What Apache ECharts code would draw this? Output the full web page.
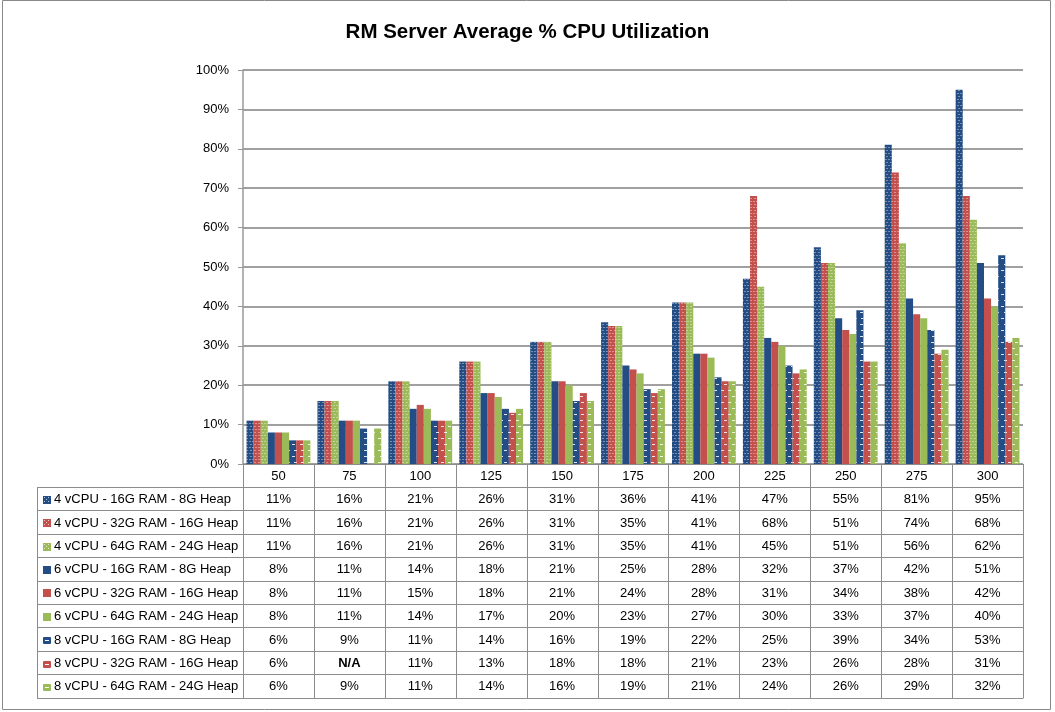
<!DOCTYPE html>
<html>
<head>
<meta charset="utf-8">
<script src="https://cdn.jsdelivr.net/npm/echarts@6/dist/echarts.min.js"></script>
<style>
  html, body { margin: 0; padding: 0; background: #fff; }
  #chart { width: 1055px; height: 712px; }
</style>
</head>
<body>
<div id="chart"></div>
<script>
// ==============================================================
// data
// ==============================================================
var categories = ['50', '75', '100', '125', '150', '175', '200', '225', '250', '275', '300'];
var seriesNames = [
    '4 vCPU - 16G RAM - 8G Heap', '4 vCPU - 32G RAM - 16G Heap', '4 vCPU - 64G RAM - 24G Heap',
    '6 vCPU - 16G RAM - 8G Heap', '6 vCPU - 32G RAM - 16G Heap', '6 vCPU - 64G RAM - 24G Heap',
    '8 vCPU - 16G RAM - 8G Heap', '8 vCPU - 32G RAM - 16G Heap', '8 vCPU - 64G RAM - 24G Heap'
];
var cpu4_16 = [11, 16, 21, 26, 31, 36, 41, 47, 55, 81, 95];
var cpu4_32 = [11, 16, 21, 26, 31, 35, 41, 68, 51, 74, 68];
var cpu4_64 = [11, 16, 21, 26, 31, 35, 41, 45, 51, 56, 62];
var cpu6_16 = [8, 11, 14, 18, 21, 25, 28, 32, 37, 42, 51];
var cpu6_32 = [8, 11, 15, 18, 21, 24, 28, 31, 34, 38, 42];
var cpu6_64 = [8, 11, 14, 17, 20, 23, 27, 30, 33, 37, 40];
var cpu8_16 = [6, 9, 11, 14, 16, 19, 22, 25, 39, 34, 53];
var cpu8_32 = [6, null, 11, 13, 18, 18, 21, 23, 26, 28, 31];
var cpu8_64 = [6, 9, 11, 14, 16, 19, 21, 24, 26, 29, 32];
var seriesValues = [cpu4_16, cpu4_32, cpu4_64, cpu6_16, cpu6_32, cpu6_64, cpu8_16, cpu8_32, cpu8_64];

// ==============================================================
// styles
// ==============================================================
var colors = ['#234d84', '#c4504d', '#9bbb59'];
var font = 'Liberation Sans';
var lineColor = '#8c8c8c';

// plot area + table layout (pixels)
var plotL = 243, plotR = 1023, plotT = 70, plotB = 464;
var tableL = 37, tableTop = 487, rowH = 23.4;
var colW = (plotR - plotL) / categories.length;

function decalFor(group) {
    if (group === 0) {
        // fine light texture
        return {
            symbol: 'rect', symbolSize: 1,
            dashArrayX: [[2, 1], [0, 1.5, 2, 0]], dashArrayY: [1, 1.5],
            color: 'rgba(255,255,255,0.38)'
        };
    }
    if (group === 2) {
        // short white dashes
        return {
            symbol: 'rect', symbolSize: 1,
            dashArrayX: [[3, 4], [0, 3.5, 3, 0.5]], dashArrayY: [1, 5],
            color: 'rgba(255,255,255,0.85)'
        };
    }
    return null;
}

var series = seriesValues.map(function (vals, i) {
    var group = Math.floor(i / 3);
    var itemStyle = { color: colors[i % 3] };
    var d = decalFor(group);
    if (d) itemStyle.decal = d;
    return {
        name: seriesNames[i],
        type: 'bar',
        data: vals,
        barGap: '0%',
        barCategoryGap: '10%',
        itemStyle: itemStyle,
        emphasis: { disabled: true }
    };
});

// ==============================================================
// data table under the plot
// ==============================================================
function crisp(v) { return Math.round(v) + 0.5; }

function line(x1, y1, x2, y2) {
    return {
        type: 'line', silent: true,
        shape: { x1: x1, y1: y1, x2: x2, y2: y2 },
        style: { stroke: lineColor, lineWidth: 1 }
    };
}

function text(str, x, y, align, bold) {
    return {
        type: 'text', silent: true,
        x: x, y: y,
        style: {
            text: str, x: 0, y: 0,
            align: align, verticalAlign: 'middle',
            font: (bold ? 'bold ' : '') + '13px "' + font + '"',
            fill: '#000'
        }
    };
}

function legendKey(i, cy) {
    var group = Math.floor(i / 3);
    var c = colors[i % 3];
    var x = 43, y = Math.round(cy) - 4;
    var els = [];
    if (group === 2) {
        els.push({ type: 'rect', silent: true, shape: { x: x, y: y + 1, width: 8, height: 7, r: 1 }, style: { fill: c } });
        els.push({ type: 'rect', silent: true, shape: { x: x + 2, y: y + 4, width: 4, height: 1 }, style: { fill: '#fff' } });
    } else {
        els.push({ type: 'rect', silent: true, shape: { x: x, y: y, width: 8, height: 8 }, style: { fill: c } });
        if (group === 0) {
            [[1, 1], [5, 1], [3, 3], [1, 5], [5, 5]].forEach(function (p) {
                els.push({ type: 'rect', silent: true, shape: { x: x + p[0], y: y + p[1], width: 1, height: 1 }, style: { fill: 'rgba(255,255,255,0.7)' } });
            });
        }
    }
    return els;
}

var tableBottom = tableTop + rowH * seriesNames.length;
var graphic = [];

// outer chart frame
graphic.push({
    type: 'rect', silent: true,
    shape: { x: 2.5, y: 0.5, width: 1048, height: 709 },
    style: { fill: 'none', stroke: '#888', lineWidth: 1 }
});

// row lines
for (var k = 0; k <= seriesNames.length; k++) {
    var yy = crisp(tableTop + k * rowH);
    graphic.push(line(tableL, yy, plotR, yy));
}
// column lines
graphic.push(line(crisp(tableL), crisp(tableTop), crisp(tableL), crisp(tableBottom)));
for (var j = 0; j <= categories.length; j++) {
    var xx = crisp(plotL + j * colW);
    graphic.push(line(xx, plotB, xx, crisp(tableBottom)));
}
// header (categories)
categories.forEach(function (c, j) {
    graphic.push(text(c, plotL + (j + 0.5) * colW, (plotB + tableTop) / 2 + 1, 'center'));
});
// rows
seriesNames.forEach(function (name, i) {
    var cy = tableTop + (i + 0.5) * rowH + 1;
    graphic = graphic.concat(legendKey(i, cy));
    graphic.push(text(name, 54, cy, 'left'));
    seriesValues[i].forEach(function (v, j) {
        var na = v === null;
        graphic.push(text(na ? 'N/A' : v + '%', plotL + (j + 0.5) * colW, cy, 'center', na));
    });
});

// ==============================================================
// chart
// ==============================================================
var chart = echarts.init(document.getElementById('chart'));
var option = {
    backgroundColor: '#fff',
    animation: false,
    title: {
        text: 'RM Server Average % CPU Utilization',
        left: 'center',
        top: 17,
        textStyle: { fontFamily: font, fontSize: 20.5, fontWeight: 'bold', color: '#000' }
    },
    grid: {
        left: plotL,
        right: 1055 - plotR,
        top: plotT,
        bottom: 712 - plotB
    },
    xAxis: {
        type: 'category',
        data: categories,
        axisLine: { lineStyle: { color: lineColor, width: 1 } },
        axisTick: { show: false },
        axisLabel: { show: false }
    },
    yAxis: {
        type: 'value',
        min: 0,
        max: 100,
        interval: 10,
        axisLine: { show: true, lineStyle: { color: '#999', width: 1.5 } },
        axisTick: { show: true, length: 5, lineStyle: { color: '#999' } },
        axisLabel: {
            formatter: '{value}%',
            margin: 14,
            fontFamily: font,
            fontSize: 13,
            color: '#000'
        },
        splitLine: { lineStyle: { color: '#a0a0a0', width: 2 } }
    },
    series: series,
    graphic: graphic
};
chart.setOption(option, true);
</script>
</body>
</html>
